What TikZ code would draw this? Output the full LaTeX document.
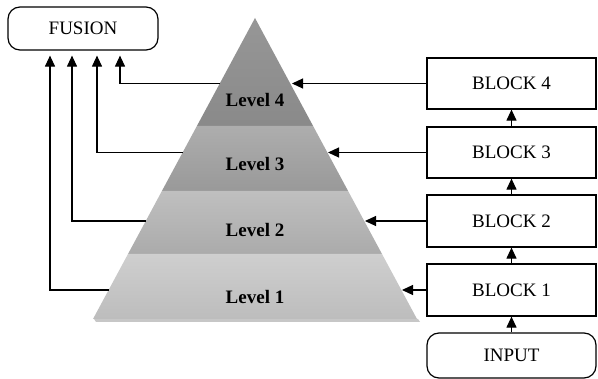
\documentclass[tikz,border=0pt]{standalone}
\usepackage{fontspec}
\setmainfont{Liberation Serif}
\usetikzlibrary{arrows.meta}
\begin{document}
\begin{tikzpicture}[x=1pt,y=-1pt,
 box/.style={draw, line width=1.2pt, minimum width=169pt, minimum height=51pt, font=\fontsize{19}{22}\selectfont, inner sep=0pt},
 rbox/.style={box, rounded corners=12pt},
 lvl/.style={font=\bfseries\fontsize{19}{22}\selectfont},
 arr/.style={-{Triangle[length=11pt,width=10pt]}, line width=1.1pt},
 band/.style={draw=none}]
\useasboundingbox (0,0) rectangle (598,379);
% shadow
\fill[black!22] (94,319) -- (418,319) -- (420,322) -- (96,322) -- cycle;
% pyramid bands
\shade[band, top color=black!41, bottom color=black!46] (255,18) -- (313.1,126) -- (196.9,126) -- cycle;
\shade[band, top color=black!32, bottom color=black!40] (196.9,126) -- (313.1,126) -- (348.1,191) -- (161.9,191) -- cycle;
\shade[band, top color=black!25, bottom color=black!33] (161.9,191) -- (348.1,191) -- (382,254) -- (128,254) -- cycle;
\shade[band, top color=black!19, bottom color=black!26] (128,254) -- (382,254) -- (417,319) -- (93,319) -- cycle;
\node[lvl] (lv4) at (255,100) {Level 4};
\node[lvl] (lv3) at (255,164) {Level 3};
\node[lvl] (lv2) at (255,230) {Level 2};
\node[lvl] (lv1) at (255,297) {Level 1};
% edge coordinates
\coordinate (r4) at (292,83.5);
\coordinate (r3) at (328,152.5);
\coordinate (r2) at (365,221);
\coordinate (r1) at (402,290);
\coordinate (l4) at (219.7,83.5);
\coordinate (l3) at (182.6,152.5);
\coordinate (l2) at (145.7,221);
\coordinate (l1) at (108.6,290);
% boxes
\node[rbox, minimum width=150pt, minimum height=43pt] (fusion) at (83,28.5) {FUSION};
\node[box] (b4) at (511.5,83.5) {BLOCK 4};
\node[box] (b3) at (511.5,152.5) {BLOCK 3};
\node[box, minimum height=52pt] (b2) at (511.5,221) {BLOCK 2};
\node[box, minimum height=52pt] (b1) at (511.5,290) {BLOCK 1};
\node[rbox, minimum height=45pt] (inp) at (511.5,355.5) {INPUT};
% vertical chain
\draw[arr] (inp) -- (b1);
\draw[arr] (b1) -- (b2);
\draw[arr] (b2) -- (b3);
\draw[arr] (b3) -- (b4);
% blocks to pyramid
\draw[arr] (b4.west) -- (r4);
\draw[arr] (b3.west) -- (r3);
\draw[arr] (b2.west) -- (r2);
\draw[arr] (b1.west) -- (r1);
% pyramid to fusion
\draw[arr] (l4) -| ([xshift=37pt,yshift=-5pt]fusion.south);
\draw[arr] (l3) -| ([xshift=14pt,yshift=-5pt]fusion.south);
\draw[arr] (l2) -| ([xshift=-11pt,yshift=-5pt]fusion.south);
\draw[arr] (l1) -| ([xshift=-33pt,yshift=-5pt]fusion.south);
\end{tikzpicture}
\end{document}
